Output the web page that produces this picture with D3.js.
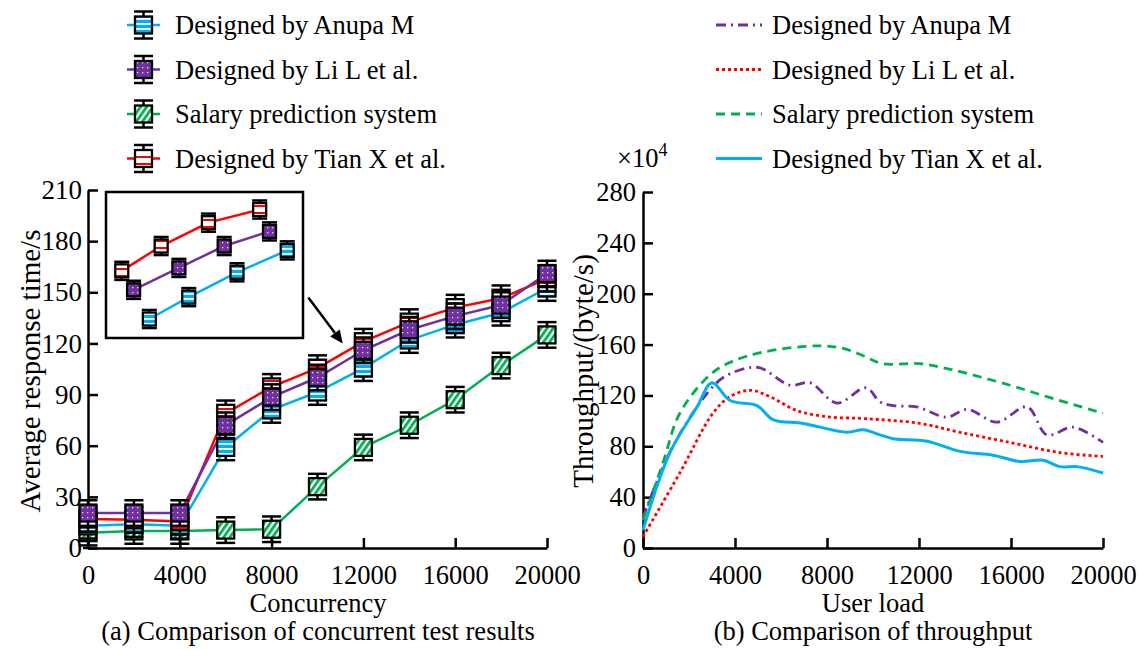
<!DOCTYPE html>
<html><head><meta charset="utf-8">
<script src="https://cdn.jsdelivr.net/npm/d3@7"></script>
<style>
body{margin:0;background:#fff;}
svg{display:block;font-family:"Liberation Serif","Times New Roman",serif;}
</style></head>
<body><svg id="c" width="1142" height="650"></svg>
<script>
// ---------- data: (a) concurrent test ----------
const concurrency = [0,2000,4000,6000,8000,10000,12000,14000,16000,18000,20000];
const anupaTime  = [13,14,13,59,81,91.5,105.5,122,131,138,152.5];
const liTime     = [20.5,20.5,20.5,72,88.5,100,116,128,136,142.5,161];
const salaryTime = [9,10,10,10.5,11,36,59,72,87,107,125];
const tianTime   = [17,16.5,15.5,79,94.5,105.5,121,132.5,141,146.5,158];
const timeErr = 7.5;
const timeTicks = [0,30,60,90,120,150,180,210];
const concTicks = [0,4000,8000,12000,16000,20000];
// inset (magnified view, arbitrary units 0-100)
const insetTianX = [8,28,52,78],  insetTianY = [46,63,79,88];
const insetLiX   = [14,37,60,83], insetLiY   = [33,48,63,73];
const insetAnuX  = [22,42,66.5,92], insetAnuY = [13,28,45,60];
const insetErr = 6.2;
const arrowFrom = [9600,147], arrowTo = [11100,120];

// ---------- data: (b) throughput ----------
const anupaLoad = [0,1300,3040,3780,5000,6400,7260,8430,9700,10300,10870,11900,13200,14090,15390,16700,17560,18700,20000];
const anupaThr  = [24,80,127,137,142,128,130,114,126,115,112,111,103,109,99,111,89,95,83];
const liLoad = [0,1600,3040,3780,4650,5520,6700,8130,9430,10300,12040,13780,15960,18130,20000];
const liThr  = [9,59,106,119,124,119,108,103,102,101,98,91,83,75,72];
const salLoad = [0,870,1600,2900,3780,5200,7570,8700,9600,10400,12040,13480,15960,17560,20000];
const salThr  = [22,67,106,136,146,154,159,157,151,145,145,140,128,119,106];
const tianLoad = [0,1170,2350,3000,3780,4960,5650,6960,8870,9570,10300,10870,12350,13780,15220,16390,17390,18130,18870,20000];
const tianThr  = [14,75,111,130,116,112,101,98,91,93,89,86,84,76,73,68,69,64,64,59];
const thrTicks = [0,40,80,120,160,200,240,280];
const loadTicks = [0,4000,8000,12000,16000,20000];

const names = ["Designed by Anupa M","Designed by Li L et al.","Salary prediction system","Designed by Tian X et al."];
const colA = ["#00b0f0","#7030a0","#00b050","#ff0000"];
const patA = ["pCyan","pPurple","pGreen","pRed"];
const drawOrderA = [2,0,3,1];
const colB = ["#7030a0","#ff0000","#00b050","#00b0f0"];
const dashB = ["10,5,2,5","3,3","9,6",null];

const svg = d3.select("#c");
const defs = svg.append("defs");
// patterns
{
  let p = defs.append("pattern").attr("id","pCyan").attr("patternUnits","userSpaceOnUse").attr("width",6).attr("height",5);
  p.append("rect").attr("width",6).attr("height",5).attr("fill","#00b0f0");
  p.append("rect").attr("y",3).attr("width",6).attr("height",1.8).attr("fill","#fff");
  p = defs.append("pattern").attr("id","pPurple").attr("patternUnits","userSpaceOnUse").attr("width",5).attr("height",5);
  p.append("rect").attr("width",5).attr("height",5).attr("fill","#7030a0");
  p.append("rect").attr("x",2).attr("y",2).attr("width",1.3).attr("height",1.3).attr("fill","#e8dcf0");
  p = defs.append("pattern").attr("id","pGreen").attr("patternUnits","userSpaceOnUse").attr("width",5).attr("height",5).attr("patternTransform","rotate(35)");
  p.append("rect").attr("width",5).attr("height",5).attr("fill","#fff");
  p.append("rect").attr("width",2.8).attr("height",5).attr("fill","#00b050");
  p = defs.append("pattern").attr("id","pRed").attr("patternUnits","userSpaceOnUse").attr("width",6).attr("height",7);
  p.append("rect").attr("width",6).attr("height",7).attr("fill","#fff");
  p.append("rect").attr("y",2).attr("width",6).attr("height",2).attr("fill","#ff0000");
}

function txt(x,y,s,size,anchor,rot){
  return svg.append("text").attr("transform",`translate(${x},${y})`+(rot?` rotate(${rot})`:""))
    .attr("text-anchor",anchor||"start").style("font-size",size+"px").attr("fill","#000").text(s);
}
function styleAxis(g,size){
  g.select(".domain").attr("stroke","#000").attr("stroke-width",2.5);
  g.selectAll(".tick line").attr("stroke","#000").attr("stroke-width",2.5);
  g.selectAll(".tick text").style("font-size",size+"px").style("font-family",'"Liberation Serif",serif').attr("fill","#000");
}

// ================= (a) =================
const xL = d3.scaleLinear().domain([0,20000]).range([88,547]);
const yL = d3.scaleLinear().domain([0,210]).range([548,190]);

const gxL = svg.append("g").attr("transform","translate(0,548)")
  .call(d3.axisBottom(xL).tickValues(concTicks).tickSizeInner(-10).tickSizeOuter(0).tickPadding(17).tickFormat(d3.format("d")));
styleAxis(gxL,26.5);
const gyL = svg.append("g").attr("transform","translate(88,0)")
  .call(d3.axisLeft(yL).tickValues(timeTicks).tickSizeInner(-10).tickSizeOuter(0).tickPadding(6));
styleAxis(gyL,27);
svg.append("line").attr("x1",83).attr("x2",88).attr("y1",548).attr("y2",548).attr("stroke","#000").attr("stroke-width",2.5);

const seriesA = [anupaTime, liTime, salaryTime, tianTime];
const lineL = d3.line().x((d,i)=>xL(concurrency[i])).y(d=>yL(d));
drawOrderA.forEach(k=>{
  svg.append("path").datum(seriesA[k]).attr("d",lineL).attr("fill","none").attr("stroke",colA[k]).attr("stroke-width",2.5);
});
function marker(g,cx,cy,ytop,ybot,half,capw,pat){
  g.append("line").attr("x1",cx).attr("x2",cx).attr("y1",ytop).attr("y2",ybot).attr("stroke","#000").attr("stroke-width",2.5);
  [ytop,ybot].forEach(yy=>g.append("line").attr("x1",cx-capw/2).attr("x2",cx+capw/2).attr("y1",yy).attr("y2",yy).attr("stroke","#000").attr("stroke-width",2.5));
  g.append("rect").attr("x",cx-half).attr("y",cy-half).attr("width",2*half).attr("height",2*half)
    .attr("fill",`url(#${pat})`).attr("stroke","#000").attr("stroke-width",2.3);
}
drawOrderA.forEach(k=>{
  const g = svg.append("g");
  seriesA[k].forEach((v,i)=> marker(g,xL(concurrency[i]),yL(v),yL(v+timeErr),yL(v-timeErr),8.5,19,patA[k]));
});

// inset
const ix = d3.scaleLinear().domain([0,100]).range([106,303]);
const iy = d3.scaleLinear().domain([0,100]).range([338,192]);
svg.append("rect").attr("x",106).attr("y",192).attr("width",197).attr("height",146).attr("fill","#fff").attr("stroke","#000").attr("stroke-width",2.5);
const insetSets = [[insetAnuX,insetAnuY,0],[insetLiX,insetLiY,1],[insetTianX,insetTianY,3]];
insetSets.forEach(([xs,ys,k])=>{
  svg.append("path").datum(ys).attr("d",d3.line().x((d,i)=>ix(xs[i])).y(d=>iy(d)))
    .attr("fill","none").attr("stroke",colA[k]).attr("stroke-width",2.5);
});
insetSets.forEach(([xs,ys,k])=>{
  const g = svg.append("g");
  ys.forEach((v,i)=>marker(g,ix(xs[i]),iy(v),iy(v+insetErr),iy(v-insetErr),6.5,15,patA[k]));
});
// arrow
{
  const x1=xL(arrowFrom[0]), y1=yL(arrowFrom[1]), x2=xL(arrowTo[0]), y2=yL(arrowTo[1]);
  const ang=Math.atan2(y2-y1,x2-x1), L=13, w=6;
  const bx=x2-L*Math.cos(ang), by=y2-L*Math.sin(ang);
  svg.append("line").attr("x1",x1).attr("y1",y1).attr("x2",bx).attr("y2",by).attr("stroke","#000").attr("stroke-width",2.5);
  svg.append("path").attr("d",`M${x2},${y2}L${bx-w*Math.sin(ang)},${by+w*Math.cos(ang)}L${bx+w*Math.sin(ang)},${by-w*Math.cos(ang)}Z`).attr("fill","#000");
}

// legend (a)
names.forEach((n,k)=>{
  const cy = 25 + k*44.5;
  svg.append("line").attr("x1",127).attr("x2",160).attr("y1",cy).attr("y2",cy).attr("stroke",colA[k]).attr("stroke-width",2.5);
  const g = svg.append("g");
  marker(g,143.5,cy,cy-13.5,cy+13.5,8.5,19,patA[k]);
  txt(175,cy+9,n,26.5,"start");
});

txt(40,371,"Average response time/s",29,"middle",-90);
txt(318,612,"Concurrency",26.5,"middle");
txt(318,640,"(a) Comparison of concurrent test results",26.5,"middle");

// ================= (b) =================
const xR = d3.scaleLinear().domain([0,20000]).range([643,1103]);
const yR = d3.scaleLinear().domain([0,280]).range([548,192]);
const gxR = svg.append("g").attr("transform","translate(0,548)")
  .call(d3.axisBottom(xR).tickValues(loadTicks).tickSizeInner(-10).tickSizeOuter(0).tickPadding(17).tickFormat(d3.format("d")));
styleAxis(gxR,26.5);
const gyR = svg.append("g").attr("transform","translate(643,0)")
  .call(d3.axisLeft(yR).tickValues(thrTicks).tickSizeInner(-10).tickSizeOuter(0).tickPadding(7));
styleAxis(gyR,26.5);

const seriesB = [[anupaLoad,anupaThr],[liLoad,liThr],[salLoad,salThr],[tianLoad,tianThr]];
seriesB.forEach(([xs,ys],k)=>{
  const ln = d3.line().x((d,i)=>xR(xs[i])).y(d=>yR(d)).curve(d3.curveCatmullRom.alpha(0.5));
  const p = svg.append("path").datum(ys).attr("d",ln).attr("fill","none").attr("stroke",colB[k]).attr("stroke-width",k===3?3:2.8);
  if(dashB[k]) p.attr("stroke-dasharray",dashB[k]);
});
names.forEach((n,k)=>{
  const cy = 25 + k*44.5;
  const l = svg.append("line").attr("x1",716).attr("x2",762).attr("y1",cy).attr("y2",cy).attr("stroke",colB[k]).attr("stroke-width",k===3?3:2.8);
  if(dashB[k]) l.attr("stroke-dasharray",dashB[k]);
  txt(772,cy+9,n,26.5,"start");
});
{
  const t = txt(617,167,"×10",26.5,"start");
  t.append("tspan").attr("dy",-11).style("font-size","18px").text("4");
}
txt(593,371,"Throughput/(byte/s)",29,"middle",-90);
txt(873,612,"User load",26.5,"middle");
txt(873,640,"(b) Comparison of throughput",26.5,"middle");
</script></body></html>
